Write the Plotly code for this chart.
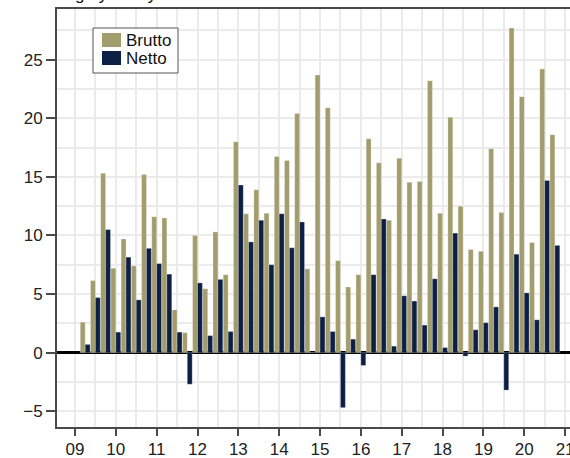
import plotly.graph_objects as go

quarters = [f"{y}Q{q}" for y in range(2009, 2021) for q in range(1, 5)][:47]

brutto = [2.6, 6.15, 15.3, 7.2, 9.7, 7.4, 15.2, 11.6, 11.5, 3.65, 1.7, 10.0, 5.45, 10.3, 6.65,
          18.0, 11.85, 13.9, 11.9, 16.75, 16.4, 20.4, 7.15, 23.7, 20.9, 7.85, 5.6, 6.65, 18.25,
          16.2, 11.3, 16.6, 14.55, 14.6, 23.2, 11.9, 20.1, 12.5, 8.8, 8.65, 17.4, 11.95, 27.7,
          21.85, 9.4, 24.2, 18.6]
netto = [0.7, 4.7, 10.5, 1.75, 8.15, 4.5, 8.9, 7.6, 6.7, 1.75, -2.7, 5.95, 1.45, 6.25, 1.8,
         14.3, 9.45, 11.3, 7.5, 11.85, 8.95, 11.15, 0, 3.05, 1.8, -4.7, 1.15, -1.1, 6.65,
         11.4, 0.55, 4.85, 4.4, 2.35, 6.3, 0.43, 10.2, -0.3, 1.95, 2.55, 3.9, -3.2, 8.4,
         5.1, 2.8, 14.7, 9.15]

tick_vals = list(range(2009, 2022))
tick_text = ["09", "10", "11", "12", "13", "14", "15", "16", "17", "18", "19", "20", "21"]

series_names = ["Brutto", "Netto"]
series_colors = ["#a39c6d", "#0d1f44"]

# quarter end positions in fractional years
xpos = [int(q[:4]) + int(q[-1]) / 4 for q in quarters]

W, H = 570, 458
ML, MR, MT, MB = 57, 0, 9, 31
PW, PH = W - ML - MR, H - MT - MB


def px_x(p):
    return (p - ML) / PW


def px_y(p):
    return (H - MB - p) / PH


fig = go.Figure()
for name, vals, col in zip(series_names, [brutto, netto], series_colors):
    fig.add_trace(go.Bar(x=xpos, y=vals, name=name,
                         marker=dict(color=col, line=dict(color="rgba(255,255,255,0.5)", width=0.5))))

# manual legend (box, swatches, labels)
shapes = [dict(type="rect", xref="paper", yref="paper", x0=px_x(93), x1=px_x(178),
               y0=px_y(73), y1=px_y(28), line=dict(color="#555", width=1), fillcolor="white", layer="above")]
annotations = []
for i, (name, col) in enumerate(zip(series_names, series_colors)):
    top = 33 + i * 18
    shapes.append(dict(type="rect", xref="paper", yref="paper", x0=px_x(102), x1=px_x(121),
                       y0=px_y(top + 14), y1=px_y(top), line=dict(width=0), fillcolor=col, layer="above"))
    annotations.append(dict(text=name, xref="paper", yref="paper", x=px_x(124), y=px_y(top + 7.5),
                            xanchor="left", yanchor="middle", showarrow=False,
                            font=dict(size=17, color="#111")))

annotations.append(dict(text="High yield nyudstedelser i EUR mia.", xref="paper", yref="paper",
                        x=0, y=1, xanchor="left", yanchor="bottom", yshift=3, showarrow=False,
                        font=dict(size=17, color="#111")))

axis_col = "#4a4a4a"
fig.update_layout(
    width=W, height=H,
    margin=dict(l=ML, r=MR, t=MT, b=MB),
    paper_bgcolor="white", plot_bgcolor="white",
    barmode="group", bargap=0.04, bargroupgap=0.0,
    font=dict(family="Liberation Sans, Arial, sans-serif", size=17, color="#222"),
    showlegend=False,
    xaxis=dict(range=[2008.56, 2021.12], tickvals=tick_vals, ticktext=tick_text,
               ticks="outside", ticklen=7, tickwidth=2, tickcolor=axis_col,
               showline=True, linecolor=axis_col, linewidth=2, mirror=True,
               showgrid=True, gridcolor="#ebebeb", gridwidth=1.5,
               minor=dict(dtick=0.5, tick0=2009, showgrid=True, gridcolor="#ebebeb", gridwidth=1.5, ticks=""),
               zeroline=False, automargin=False, ticklabeloverflow="allow", ticklabelstandoff=-1,
               tickfont=dict(size=17, color="#222")),
    yaxis=dict(range=[-6.35, 29.33], tickvals=[-5, 0, 5, 10, 15, 20, 25],
               ticks="outside", ticklen=9, tickwidth=2, tickcolor=axis_col,
               showline=True, linecolor=axis_col, linewidth=2, mirror=True,
               showgrid=True, gridcolor="#ebebeb", gridwidth=1.5,
               minor=dict(dtick=2.5, tick0=0, showgrid=True, gridcolor="#ebebeb", gridwidth=1.5, ticks=""),
               zeroline=True, zerolinecolor="black", zerolinewidth=2.5,
               automargin=False, tickfont=dict(size=17, color="#222")),
    shapes=shapes,
    annotations=annotations,
)

fig.write_html("out.html", config={"displayModeBar": False},
               post_script="document.body.style.margin='0';")
